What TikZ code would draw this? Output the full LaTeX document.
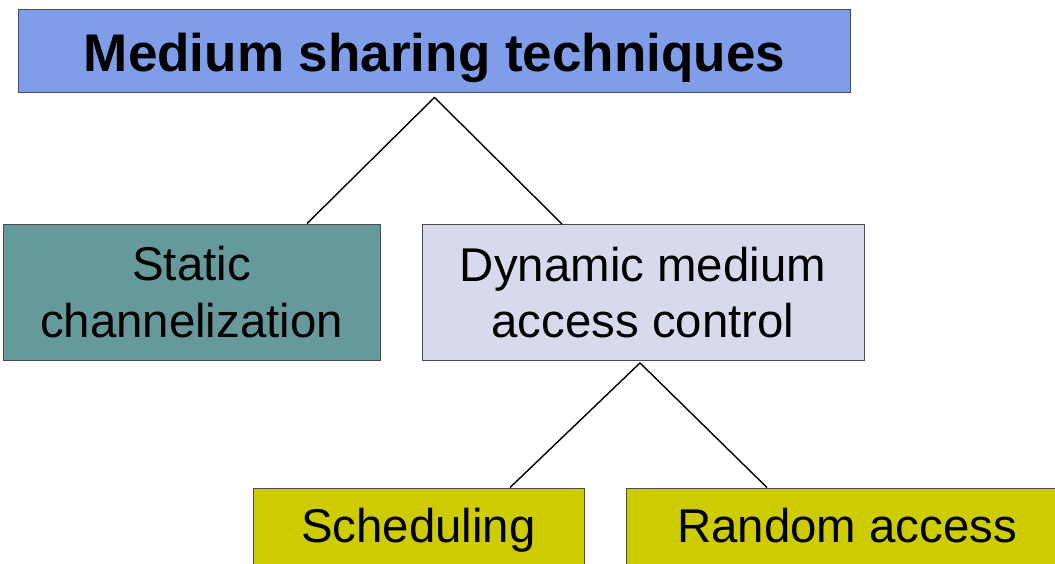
\documentclass[tikz,border=0pt]{standalone}
\usepackage{fontspec}
\setmainfont{Liberation Sans}
\usepackage{xcolor}
\usetikzlibrary{calc}
\definecolor{topblue}{HTML}{7F9DE8}
\definecolor{statgreen}{HTML}{669999}
\definecolor{dynlilac}{HTML}{D9D9EE}
\definecolor{leafyellow}{HTML}{CCCC00}

\begin{document}
\begin{tikzpicture}[x=0.025cm,y=-0.025cm,
    box/.style={draw=black!70,line width=0.6pt,inner sep=0pt,align=center,
      font=\fontsize{33.7}{40.4}\selectfont},
    leaf/.style={box,fill=leafyellow,minimum height=2.15cm,text height=24pt,text depth=7pt},
    link/.style={draw=black,line width=1pt}]
  \useasboundingbox (0,0) rectangle (1055,564);
  \node[box,fill=topblue,minimum width=20.775cm,minimum height=2.075cm,text height=33pt,text depth=3.8pt,
    font=\fontsize{37.7}{45}\selectfont\bfseries] (m) at (434.5,50.5) {Medium sharing techniques};
  \node[box,fill=statgreen,minimum width=9.425cm,minimum height=3.4cm] (s) at (191.5,292) {Static\\channelization};
  \node[box,fill=dynlilac,minimum width=11.05cm,minimum height=3.4cm] (d) at (643,292.5) {Dynamic medium\\access control};
  \node[leaf,minimum width=8.275cm] (sch) at (418.5,531) {Scheduling};
  \node[leaf,minimum width=11.05cm] (ra) at (847,531) {Random access};

  \coordinate (m-tip) at ($(m.south)+(0,5)$);
  \coordinate (d-tip) at ($(d.south)+(-3,2)$);
  \path[link]
    (m-tip) edge ($(s.north)+(115.5,0)$)
    (m-tip) edge ($(d.north)+(-81,0)$);
  \path[link]
    (d-tip) edge ($(sch.north)+(91.5,0)$)
    (d-tip) edge ($(ra.north)+(-80,0)$);
\end{tikzpicture}
\end{document}
